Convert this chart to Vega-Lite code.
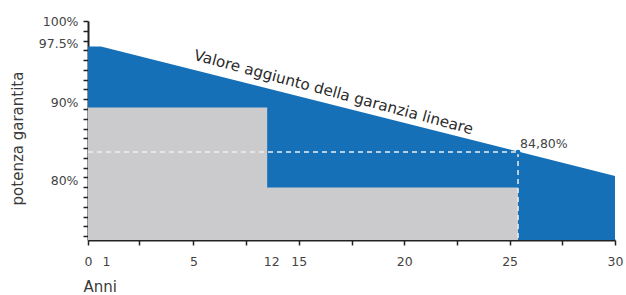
{
  "$schema": "https://vega.github.io/schema/vega-lite/v6.json",
  "width": 527,
  "height": 219,
  "autosize": "none",
  "padding": {"left": 88, "top": 21, "right": 11, "bottom": 55},
  "background": "white",
  "config": {"view": {"stroke": null}, "font": "DejaVu Sans"},
  "datasets": {
    "blu": [
      {"anno": 0, "potenza": 96.73},
      {"anno": 0.72, "potenza": 96.73},
      {"anno": 30, "potenza": 80.18}
    ],
    "grigio": [
      {"anno": 0, "potenza": 88.93},
      {"anno": 12, "potenza": 78.7},
      {"anno": 25.4, "potenza": 78.7}
    ],
    "orizzontale": [{"anno": 0, "fine": 25.4, "potenza": 83.25}],
    "garanzia": [{"anno": 25.4, "potenza": 83.25, "etichetta": "84,80%", "quota": 84.23}],
    "nota": [{"anno": 16.65, "potenza": 90.9, "testo": "Valore aggiunto della garanzia lineare"}]
  },
  "encoding": {
    "x": {
      "field": "anno",
      "type": "quantitative",
      "scale": {"domain": [0, 1, 5, 15, 20, 25, 30], "range": [0, 18, 105.4, 210.8, 316.2, 421.6, 527], "nice": false, "zero": false},
      "axis": {
        "title": "Anni",
        "values": [0, 1, 2.5, 5, 10, 12, 15, 17.5, 20, 22.5, 25, 27.5, 30],
        "labelExpr": "indexof([0,1,5,12,15,20,25,30], datum.value) >= 0 ? datum.label : ''",
        "labelFontSize": 12.5,
        "labelColor": "#444444",
        "labelPadding": 10,
        "labelFlush": false,
        "labelOverlap": false,
        "labelOffset": {"condition": {"test": "datum.value == 12", "value": 4}, "value": 0},
        "domainColor": "#222222",
        "domainWidth": 2,
        "tickColor": "#222222",
        "tickWidth": 1.5,
        "tickSize": 5,
        "tickOpacity": {"condition": {"test": "datum.value == 1 || datum.value == 12", "value": 0}, "value": 1},
        "grid": false,
        "titleFontSize": 15,
        "titleFontWeight": "normal",
        "titleColor": "#3a3a3a",
        "titleAnchor": "start",
        "titleAlign": "left",
        "titleBaseline": "middle",
        "titleX": -5,
        "titleY": 46
      }
    },
    "y": {
      "field": "potenza",
      "type": "quantitative",
      "scale": {"domain": [72, 100], "nice": false, "zero": false},
      "axis": {
        "title": "potenza garantita",
        "values": [72.5, 73.75, 75, 76.25, 77.5, 78.75, 80, 81.25, 82.5, 83.75, 85, 86.25, 87.5, 88.75, 90, 91.25, 92.5, 93.75, 95, 96.25, 97.5, 98.75, 100],
        "labelExpr": "indexof([100,97.5,90,80], datum.value) >= 0 ? datum.value + '%' : ''",
        "labelFontSize": 12.5,
        "labelColor": "#444444",
        "labelPadding": 5,
        "labelOverlap": false,
        "labelFlush": false,
        "labelOffset": {"condition": {"test": "datum.value < 99", "value": 3}, "value": 0},
        "domainColor": "#222222",
        "domainWidth": 2,
        "tickColor": "#222222",
        "tickWidth": 1.5,
        "tickSize": 5,
        "grid": false,
        "titleFontSize": 15,
        "titleFontWeight": "normal",
        "titleColor": "#3a3a3a",
        "titleAngle": -90,
        "titleAlign": "center",
        "titleBaseline": "middle",
        "titleX": -70.5,
        "titleY": 117
      }
    }
  },
  "layer": [
    {
      "data": {"name": "blu"},
      "mark": {"type": "area", "color": "#1570b8", "interpolate": "linear"},
      "encoding": {"y2": {"datum": 72}}
    },
    {
      "data": {"name": "grigio"},
      "mark": {"type": "area", "color": "#cbcbcd", "interpolate": "step-after"},
      "encoding": {"y2": {"datum": 72}}
    },
    {
      "data": {"name": "orizzontale"},
      "mark": {"type": "rule", "color": "#eeeeee", "strokeWidth": 1.5, "strokeDash": [5, 4]},
      "encoding": {"x2": {"field": "fine"}}
    },
    {
      "data": {"name": "garanzia"},
      "mark": {"type": "rule", "color": "#eeeeee", "strokeWidth": 1.5, "strokeDash": [5, 4]},
      "encoding": {"y2": {"datum": 72}}
    },
    {
      "data": {"name": "garanzia"},
      "mark": {"type": "point", "filled": true, "color": "#1570b8", "size": 22, "opacity": 1},
      "encoding": {}
    },
    {
      "data": {"name": "garanzia"},
      "mark": {"type": "text", "align": "left", "baseline": "middle", "dx": 2, "fontSize": 12.5, "color": "#444444"},
      "encoding": {"y": {"field": "quota", "type": "quantitative"}, "text": {"field": "etichetta"}}
    },
    {
      "data": {"name": "nota"},
      "mark": {"type": "text", "align": "center", "baseline": "middle", "angle": 15, "fontSize": 15.2, "color": "#2a2a2a"},
      "encoding": {"text": {"field": "testo"}}
    }
  ]
}
